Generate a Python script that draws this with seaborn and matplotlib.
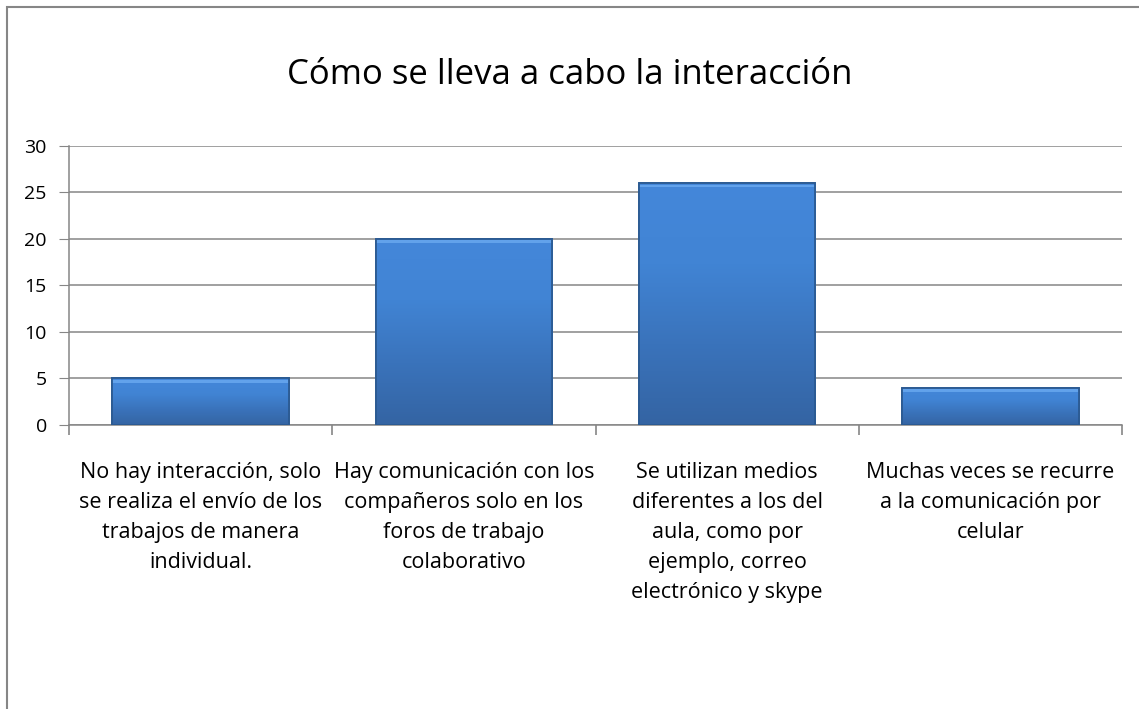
import numpy as np
import pandas as pd
import matplotlib
matplotlib.use("Agg")
import matplotlib.pyplot as plt
import seaborn as sns
from matplotlib.patches import Rectangle
from matplotlib.ticker import FixedLocator

# data
categories = [
    "No hay interacción, solo\nse realiza el envío de los\ntrabajos de manera\nindividual.",
    "Hay comunicación con los\ncompañeros solo en los\nforos de trabajo\ncolaborativo",
    "Se utilizan medios\ndiferentes a los del\naula, como por\nejemplo, correo\nelectrónico y skype",
    "Muchas veces se recurre\na la comunicación por\ncelular",
]
values = [5, 20, 26, 4]
title = "Cómo se lleva a cabo la interacción"

df = pd.DataFrame({"cat": categories, "val": values})

sns.set_style("white")
plt.rcParams["font.family"] = ["Open Sans", "DejaVu Sans"]
plt.rcParams["text.color"] = "black"
plt.rcParams["xtick.color"] = "black"
plt.rcParams["ytick.color"] = "black"

fig = plt.figure(figsize=(11.39, 7.09), dpi=100)
ax = fig.add_axes([69 / 1139, 1 - 425 / 709, (1122 - 69) / 1139, (425 - 146) / 709])

sns.barplot(data=df, x="cat", y="val", color="#3f7fcc", width=0.67,
            edgecolor="#2b5a92", linewidth=1.2, ax=ax, zorder=3)

# vertical gradient on each bar (Excel style bevel look)
grad = np.linspace(0, 1, 256).reshape(-1, 1)
cmap = matplotlib.colors.LinearSegmentedColormap.from_list(
    "bar", ["#3464a3", "#3a73bb", "#4184d4", "#4487da"])
for p in ax.patches:
    x0, y0 = p.get_x(), p.get_y()
    w, h = p.get_width(), p.get_height()
    im = ax.imshow(grad, extent=[x0, x0 + w, y0, y0 + h], origin="lower",
                   aspect="auto", cmap=cmap, zorder=3.5)
    im.set_clip_path(p)
    # light strip at the top
    ax.add_patch(Rectangle((x0, y0 + h - 0.45), w, 0.3, facecolor="#6aaaf0",
                           edgecolor="none", alpha=0.8, zorder=3.7))
    ax.add_patch(Rectangle((x0, y0), w, h, fill=False, edgecolor="#2b5a92",
                           linewidth=1.3, zorder=4))

ax.set_xlim(-0.5, 3.5)
ax.set_ylim(0, 30)
ax.set_yticks(range(0, 31, 5))
ax.yaxis.grid(True, color="#868686", linewidth=1.1, zorder=0)
ax.set_axisbelow(True)

for s in ["top", "right"]:
    ax.spines[s].set_visible(False)
for s in ["left", "bottom"]:
    ax.spines[s].set_color("#868686")
    ax.spines[s].set_linewidth(1.1)

ax.set_xlabel("")
ax.set_ylabel("")
ax.tick_params(axis="y", left=True, length=7, color="#868686", labelsize=14,
               pad=9, labelcolor="black")
ax.tick_params(axis="x", which="major", length=0, labelsize=15.5, pad=27,
               labelcolor="black")
ax.xaxis.set_minor_locator(FixedLocator([-0.5, 0.5, 1.5, 2.5, 3.5]))
ax.tick_params(axis="x", which="minor", bottom=True, length=7,
               color="#868686", width=1.2)
for lbl in ax.get_xticklabels():
    lbl.set_linespacing(1.55)
    lbl.set_verticalalignment("top")

fig.text(0.5, 1 - 75 / 709, title, ha="center", va="center", fontsize=25)

# outer chart border
fig.patches.append(Rectangle((7 / 1139, -0.1), 1.2, 1 - 7 / 709 + 0.1,
                             transform=fig.transFigure, fill=False,
                             edgecolor="#868686", linewidth=1.5))

fig.savefig("out.png", dpi=100)
